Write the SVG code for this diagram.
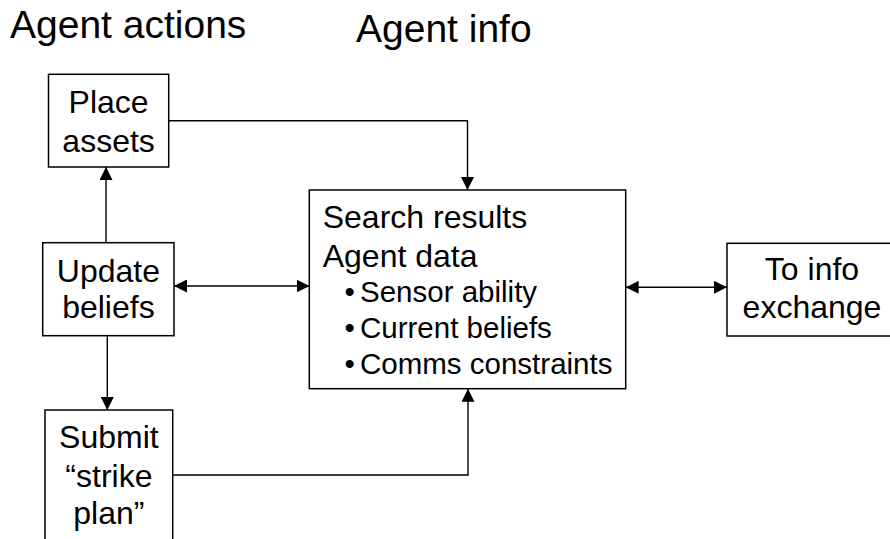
<svg xmlns="http://www.w3.org/2000/svg" width="890" height="539" viewBox="0 0 890 539">
<defs>
<style>
.box{fill:#fff;stroke:#000;stroke-width:1.5}
.t{font-family:"Liberation Sans",Arial,sans-serif;fill:#000}
.n{font-size:32px;text-anchor:middle}
.h{font-size:39px}
.b{font-size:29.5px}
.c{fill:none;stroke:#000;stroke-width:1.4}
</style>
<marker id="ah" markerUnits="userSpaceOnUse" markerWidth="13" markerHeight="13" refX="13" refY="6.5" orient="auto-start-reverse" viewBox="0 0 13 13">
<path d="M0,0 L13,6.5 L0,13 z" fill="#000"/>
</marker>
</defs>
<rect width="890" height="539" fill="#fff"/>
<text class="t h" x="10" y="37.5">Agent actions</text>
<text class="t h" x="356" y="41.5">Agent info</text>
<g id="connectors">
<path class="c" d="M168.7,120.7 H467.5 V190" marker-end="url(#ah)"/>
<path class="c" d="M106,243 V167" marker-end="url(#ah)"/>
<path class="c" d="M174,286 H309.5" marker-start="url(#ah)" marker-end="url(#ah)"/>
<path class="c" d="M107.3,336 V410" marker-end="url(#ah)"/>
<path class="c" d="M172.7,475 H468 V388.7" marker-end="url(#ah)"/>
<path class="c" d="M625.7,287.3 H727" marker-start="url(#ah)" marker-end="url(#ah)"/>
</g>
<g id="place-assets">
<rect class="box" x="48.5" y="74.3" width="120.2" height="92.7"/>
<text class="t n" x="108.6" y="113.3">Place</text>
<text class="t n" x="108.6" y="151.7">assets</text>
</g>
<g id="update-beliefs">
<rect class="box" x="42.7" y="242.7" width="131.3" height="93"/>
<text class="t n" x="108.4" y="281.7">Update</text>
<text class="t n" x="108.4" y="318">beliefs</text>
</g>
<g id="submit-strike-plan">
<rect class="box" x="45" y="410" width="127.7" height="140"/>
<text class="t n" x="108.9" y="448.3">Submit</text>
<text class="t n" x="108.9" y="486.5">“strike</text>
<text class="t n" x="108.9" y="523.5">plan”</text>
</g>
<g id="agent-info">
<rect class="box" x="309.3" y="190" width="316.4" height="198.7"/>
<text class="t" x="322.7" y="228.3" font-size="32">Search results</text>
<text class="t" x="322.7" y="267" font-size="32">Agent data</text>
<text class="t b" x="344.5" y="301.7">•</text><text class="t b" x="360" y="301.7">Sensor ability</text>
<text class="t b" x="344.5" y="337.7">•</text><text class="t b" x="360" y="337.7">Current beliefs</text>
<text class="t b" x="344.5" y="374">•</text><text class="t b" x="360" y="374">Comms constraints</text>
</g>
<g id="info-exchange">
<rect class="box" x="727" y="243.3" width="172" height="92.7"/>
<text class="t n" x="812" y="280">To info</text>
<text class="t n" x="812" y="318">exchange</text>
</g>
</svg>
